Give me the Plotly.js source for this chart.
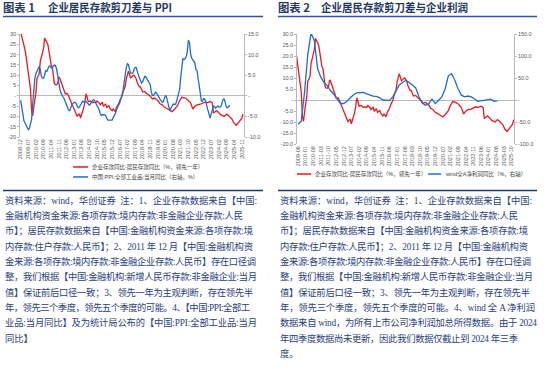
<!DOCTYPE html>
<html><head><meta charset="utf-8">
<script src="https://cdn.plot.ly/plotly-3.0.1.min.js"></script>
<style>
html,body{margin:0;padding:0;background:#fff;width:550px;height:369px;overflow:hidden;}
#txt{position:absolute;left:0;top:0;}
#c1{position:absolute;left:0;top:0;width:273px;height:190px;}
#c2{position:absolute;left:277px;top:0;width:273px;height:190px;}
</style></head><body>
<svg id="txt" width="550" height="369" xmlns="http://www.w3.org/2000/svg"></svg>
<div id="c1"></div><div id="c2"></div>
<script>
// ---------------- DATA ----------------
// Red series: 企业存款同比-居民存款同比 (%, 领先一年)
const redDates = ['2008-12','2009-01','2009-02','2009-03','2009-04','2009-05','2009-06','2009-07','2009-08','2009-09','2009-10','2009-11','2009-12',
 '2010-01','2010-02','2010-03','2010-04','2010-05','2010-06','2010-07','2010-08','2010-09','2010-10','2010-11','2010-12',
 '2011-01','2011-02','2011-03','2011-04','2011-05','2011-06','2011-07','2011-08','2011-09','2011-10','2011-11','2011-12',
 '2012-01','2012-02','2012-03','2012-04','2012-05','2012-06','2012-07','2012-08','2012-09','2012-10','2012-11','2012-12',
 '2013-01','2013-02','2013-03','2013-04','2013-05','2013-06','2013-07','2013-08','2013-09','2013-10','2013-11','2013-12',
 '2014-01','2014-02','2014-04','2014-06','2014-07','2014-09','2014-10','2014-12',
 '2015-01','2015-03','2015-04','2015-06','2015-07','2015-09','2015-10','2015-12',
 '2016-01','2016-03','2016-04','2016-06','2016-07','2016-09','2016-10','2016-12',
 '2017-01','2017-03','2017-04','2017-05','2017-07','2017-08','2017-10','2017-11',
 '2018-01','2018-02','2018-04','2018-06','2018-08','2018-11',
 '2019-01','2019-03','2019-06','2019-08','2019-10','2019-12',
 '2020-03','2020-05','2020-07','2020-09','2020-12',
 '2021-02','2021-04','2021-07','2021-09','2021-12',
 '2022-02','2022-04','2022-06','2022-09','2022-11',
 '2023-01','2023-03','2023-06','2023-08','2023-09','2023-12',
 '2024-02','2024-04','2024-07','2024-09','2024-11',
 '2025-02','2025-04','2025-06','2025-08','2025-11','2025-12'];
const redValues = [31,29,25.6,24,22.3,19,15,11.6,5,3.4,-7.2,-9.7,-5.6,
 -2,1.8,8.4,10,10.5,16.6,19,19.8,23,28,27.2,26,
 24.8,21.5,18.2,15.2,14.1,10.8,5.9,5.4,5.4,5.9,9.2,8.4,
 6.7,5,4.3,2.6,1,1,1,-0.2,-1.5,-2.8,-4,-5.2,
 -6.7,-7.5,-8.4,-10,-9,-8.9,-10.8,-9.3,-7.2,-5.6,-2.8,1,
 -0.7,-2.8,-2.5,-3.4,-3.1,-3.4,-2.5,-3.4,
 -4.4,-3.1,-5.1,-3.9,-5.6,-4.8,-6.1,-7.2,
 -6.4,-7.7,-5.6,-3.9,-2.3,-0.2,1.8,4.6,
 8.4,12,10.3,8.7,9.7,10,8.4,6.4,
 4.3,4.3,1.8,2.1,1,-0.2,
 -1.5,-1.1,-2.3,-3.9,-4.4,-5.6,
 -6.4,-7.2,-7.7,-6.7,-4.8,
 -2.3,-0.7,-1.1,-1.8,-3.4,
 -6.4,-5.1,-4.4,-4.1,-3.4,
 -3.1,-3.4,-2.8,-3.4,-8.4,-7.2,
 -8.4,-9.3,-10,-8.9,-9.7,
 -11.3,-13.3,-14.3,-13,-11,-8.9];

// Blue series chart 1: 中国:PPI:全部工业品:当月同比 (右轴, %), monthly from 2008-12
const ppiStart = '2008-12';
const ppiValues = [-1.1,
 -3.3,-4.5,-6.0,-6.6,-7.2,-7.8,-8.2,-7.9,-7.0,-5.8,-2.1,1.7,
 4.3,5.4,5.9,6.8,7.1,6.4,4.8,4.3,4.3,5.0,6.1,5.9,
 6.6,7.2,7.3,6.8,6.8,7.1,7.5,7.3,6.5,5.0,2.7,1.7,
 0.7,0.0,-0.3,-0.7,-1.4,-2.1,-2.9,-3.5,-3.6,-2.8,-2.2,-1.9,
 -1.6,-1.6,-1.9,-2.6,-2.9,-2.7,-2.3,-1.6,-1.3,-1.5,-1.4,-1.4,
 -1.6,-2.0,-2.3,-2.0,-1.4,-1.1,-0.9,-1.2,-1.8,-2.2,-2.7,-3.3,
 -4.3,-4.8,-4.6,-4.6,-4.6,-4.8,-5.4,-5.9,-5.9,-5.9,-5.9,-5.9,
 -5.3,-4.9,-4.3,-3.4,-2.8,-2.6,-1.7,-0.8,0.1,1.2,3.3,5.5,
 6.9,7.8,7.6,6.4,5.5,5.5,5.5,6.3,6.9,6.9,5.8,4.9,
 4.3,3.7,3.1,3.4,4.1,4.7,4.6,4.1,3.6,3.3,2.7,0.9,
 0.1,0.1,0.4,0.9,0.6,0.0,-0.3,-0.8,-1.2,-1.6,-1.4,-0.5,
 0.1,-0.4,-1.5,-3.1,-3.7,-3.0,-2.4,-2.0,-2.1,-2.1,-1.5,-0.4,
 0.3,1.7,4.4,6.8,9.0,8.8,9.0,9.5,10.7,13.5,12.9,10.3,
 9.1,8.8,8.3,8.0,6.4,6.1,4.2,2.3,0.9,-1.3,-1.3,-0.7,
 -0.8,-1.4,-2.5,-3.6,-4.6,-5.4,-4.4,-3.0,-2.5,-2.6,-3.0,-2.7,
 -2.5,-2.7,-2.8,-2.5,-1.4,-0.8,-0.8,-1.8,-2.8,-2.9,-2.5,-2.3];

// Blue series chart 2: wind全A净利润同比 (%, 右轴), quarterly
const profitDates = ['2009-06','2009-09','2009-12','2010-03','2010-06','2010-09','2010-12',
 '2011-03','2011-06','2011-09','2011-12','2012-03','2012-06','2012-09','2012-12',
 '2013-03','2013-06','2013-09','2013-12','2014-03','2014-06','2014-09','2014-12',
 '2015-03','2015-06','2015-09','2015-12','2016-03','2016-06','2016-09','2016-12',
 '2017-03','2017-06','2017-09','2017-12','2018-03','2018-06','2018-09','2018-12',
 '2019-03','2019-06','2019-09','2019-12','2020-03','2020-06','2020-09','2020-12',
 '2021-03','2021-06','2021-09','2021-12','2022-03','2022-06','2022-09','2022-12',
 '2023-03','2023-06','2023-09','2023-12','2024-03','2024-06','2024-09'];
const profitValues = [-55,-48,18,103,152,135,71,
 52,39,32,21,13,2,-8,-8,
 -3,5,12,16,17,17,14,11,
 9,8,5,0,0,-1,7,22,
 34,40,45,40,34,28,8,-7,
 -12,-9,2,-8,-1,7,25,55,
 60,45,25,11,7,9,7,3,
 -3,-2,-1,1,2,-3,-2];

// Tick labels
const xTicks1 = ['2008-12','2009-07','2010-02','2010-09','2011-04','2011-11','2012-06','2013-01','2013-08','2014-03',
 '2014-10','2015-05','2015-12','2016-07','2017-02','2017-09','2018-04','2018-11','2019-06','2020-01',
 '2020-08','2021-03','2021-10','2022-05','2022-12','2023-07','2024-02','2024-09','2025-04','2025-11'];
const xTicks2 = ['2009-06','2010-01','2010-08','2011-03','2011-10','2012-05','2012-12','2013-07','2014-02','2014-09',
 '2015-04','2015-11','2016-06','2017-01','2017-08','2018-03','2018-10','2019-05','2019-12','2020-07',
 '2021-02','2021-09','2022-04','2022-11','2023-06','2024-01','2024-08','2025-03','2025-10'];
const yLeftVals = [30,25,20,15,10,5,0,-5,-10,-15,-20];
const yLeftText1 = ['30','25','20','15','10','5','-','-5','-10','-15','-20'];
const yLeftText2 = ['30.0','25.0','20.0','15.0','10.0','5.0','-','-5.0','-10.0','-15.0','-20.0'];
const yRightVals1 = [15,10,5,0,-5,-10];
const yRightText1 = ['15.0','10.0','5.0','-','-5.0','-10.0'];
const yRightVals2 = [150,100,50,0,-50,-100];
const yRightText2 = ['150.0','100.0','50.0','-','-50.0','-100.0'];

const redName = '企业存款同比-居民存款同比（%，领先一年）';
const ppiName = '中国:PPI:全部工业品:当月同比（右轴，%）';
const profitName = 'wind全A净利润同比（%，右轴）';

const title1a = '图表 1', title1b = '企业居民存款剪刀差与 PPI';
const title2a = '图表 2', title2b = '企业居民存款剪刀差与企业利润';

const notesCommon = [
 '资料来源：wind，华创证券  注：1、企业存款数据来自【中国:',
 '金融机构资金来源:各项存款:境内存款:非金融企业存款:人民',
 '币】；居民存款数据来自【中国:金融机构资金来源:各项存款:境',
 '内存款:住户存款:人民币】；2、2011 年 12 月【中国:金融机构资',
 '金来源:各项存款:境内存款:非金融企业存款:人民币】存在口径调',
 '整，我们根据【中国:金融机构:新增人民币存款:非金融企业:当月',
 '值】保证前后口径一致；3、领先一年为主观判断，存在领先半'];
const notesLeftTail = [
 '年，领先三个季度，领先五个季度的可能。4、【中国:PPI:全部工',
 '业品:当月同比】及为统计局公布的【中国:PPI:全部工业品:当月',
 '同比】'];
const notesRightTail = [
 '年，领先三个季度，领先五个季度的可能。4、wind 全 A 净利润',
 '数据来自 wind，为所有上市公司净利润加总所得数据。由于 2024',
 '年四季度数据尚未更新，因此我们数据仅截止到 2024 年三季',
 '度。'];

// ---------------- helpers ----------------
function monthSeq(start, n){
  let [y,m] = start.split('-').map(Number); const out=[];
  for(let i=0;i<n;i++){ out.push(y+'-'+String(m).padStart(2,'0')); m++; if(m>12){m=1;y++;} }
  return out;
}
const ppiDates = monthSeq(ppiStart, ppiValues.length);

const RED = '#e8191f', BLUE = '#1f6dc9', AX = '#a6a6a6', TK = '#595959';
const FONT = 'Liberation Sans, Arial, "Noto Sans CJK SC", sans-serif';
const tickFont = {family: FONT, size: 5.5, color: TK};

function yAxisBase(){
  return {showgrid:false, showline:true, linecolor:AX, linewidth:0.8, ticks:'outside', ticklen:2,
    tickcolor:AX, tickwidth:0.8, tickfont:tickFont, tickmode:'array', fixedrange:true};
}

function legendItems(items){
  const shapes=[], ann=[];
  items.forEach(it=>{
    shapes.push({type:'line', xref:'paper', yref:'paper', x0:it.x0, x1:it.x1, y0:it.y, y1:it.y,
      line:{color:it.color, width:1.5}});
    ann.push({xref:'paper', yref:'paper', x:it.tx, y:it.y, xanchor:'left', yanchor:'middle',
      text:it.text, showarrow:false, font:{family:FONT, size:5.5, color:'#404040'}});
  });
  return {shapes, ann};
}

// ---------------- chart 1 ----------------
const lg1 = legendItems([
  {x0:0.237, x1:0.304, tx:0.312, y:-0.291, color:RED, text:redName},
  {x0:0.237, x1:0.304, tx:0.312, y:-0.388, color:BLUE, text:ppiName}]);
Plotly.newPlot('c1', [
  {x:redDates, y:redValues, type:'scatter', mode:'lines', name:redName, line:{color:RED, width:1.3}, yaxis:'y'},
  {x:ppiDates, y:ppiValues, type:'scatter', mode:'lines', name:ppiName, line:{color:BLUE, width:1.3}, yaxis:'y2'}
], {
  width:273, height:190, margin:{l:20, r:29, t:34, b:53, pad:0},
  paper_bgcolor:'rgba(0,0,0,0)', plot_bgcolor:'rgba(0,0,0,0)', showlegend:false,
  xaxis:{type:'date', range:['2008-11-12','2026-01-03'], tickmode:'array', tickvals:xTicks1, ticktext:xTicks1,
    tickangle:-90, tickfont:tickFont, showgrid:false, zeroline:false, showline:false, ticks:'', fixedrange:true},
  yaxis:Object.assign(yAxisBase(), {range:[-20,30], tickvals:yLeftVals, ticktext:yLeftText1,
    zeroline:true, zerolinecolor:AX, zerolinewidth:0.8}),
  yaxis2:Object.assign(yAxisBase(), {range:[-10,15], tickvals:yRightVals1, ticktext:yRightText1,
    overlaying:'y', side:'right', zeroline:false}),
  shapes:lg1.shapes, annotations:lg1.ann
}, {staticPlot:true, displayModeBar:false});

// ---------------- chart 2 ----------------
const lg2 = legendItems([
  {x0:0.0, x1:0.065, tx:0.074, y:-0.273, color:RED, text:redName},
  {x0:0.604, x1:0.664, tx:0.673, y:-0.273, color:BLUE, text:profitName}]);
Plotly.newPlot('c2', [
  {x:redDates, y:redValues, type:'scatter', mode:'lines', name:redName, line:{color:RED, width:1.3}, yaxis:'y'},
  {x:profitDates, y:profitValues, type:'scatter', mode:'lines', name:profitName, line:{color:BLUE, width:1.3}, yaxis:'y2'}
], {
  width:273, height:190, margin:{l:20, r:36, t:34, b:46, pad:0},
  paper_bgcolor:'rgba(0,0,0,0)', plot_bgcolor:'rgba(0,0,0,0)', showlegend:false,
  xaxis:{type:'date', range:['2009-05-04','2025-12-10'], tickmode:'array', tickvals:xTicks2, ticktext:xTicks2,
    tickangle:-90, tickfont:tickFont, showgrid:false, zeroline:false, showline:false, ticks:'', fixedrange:true},
  yaxis:Object.assign(yAxisBase(), {range:[-20,30], tickvals:yLeftVals, ticktext:yLeftText2,
    zeroline:true, zerolinecolor:AX, zerolinewidth:0.8}),
  yaxis2:Object.assign(yAxisBase(), {range:[-100,150], tickvals:yRightVals2, ticktext:yRightText2,
    overlaying:'y', side:'right', zeroline:false}),
  shapes:lg2.shapes, annotations:lg2.ann
}, {staticPlot:true, displayModeBar:false});

// ---------------- page text (titles, rules, notes) ----------------
const NS = 'http://www.w3.org/2000/svg';
const svg = document.getElementById('txt');
function txt(x, y, s, attrs){
  const t = document.createElementNS(NS, 'text');
  t.setAttribute('x', x); t.setAttribute('y', y); t.textContent = s;
  t.setAttribute('style', 'white-space:pre');
  for (const k in attrs) t.setAttribute(k, attrs[k]);
  svg.appendChild(t);
}
function rule(x1, x2, y, color, w){
  const l = document.createElementNS(NS, 'line');
  l.setAttribute('x1', x1); l.setAttribute('x2', x2); l.setAttribute('y1', y); l.setAttribute('y2', y);
  l.setAttribute('stroke', color); l.setAttribute('stroke-width', w);
  svg.appendChild(l);
}
const titleAttrs = {'font-family':'"Noto Sans CJK SC", sans-serif', 'font-size':'11', 'font-weight':'bold', fill:'#1f3864'};
txt(3, 11.5, title1a, Object.assign({textLength:32, lengthAdjust:'spacingAndGlyphs'}, titleAttrs));
txt(48, 11.5, title1b, Object.assign({textLength:124, lengthAdjust:'spacingAndGlyphs'}, titleAttrs));
txt(278, 11.5, title2a, Object.assign({textLength:32, lengthAdjust:'spacingAndGlyphs'}, titleAttrs));
txt(321, 11.5, title2b, Object.assign({textLength:147, lengthAdjust:'spacingAndGlyphs'}, titleAttrs));
rule(3, 263, 16.5, '#2f55a4', 1.6);
rule(278, 537, 16.5, '#2f55a4', 1.6);
rule(3, 263, 190.5, '#1f3864', 1.4);
rule(278, 537, 190.5, '#1f3864', 1.4);

const noteAttrs = {'font-family':'"Liberation Serif", "Noto Sans CJK SC", serif', 'font-size':'9.3', fill:'#28407e'};
const leftLines = notesCommon.concat(notesLeftTail);
const rightLines = notesCommon.concat(notesRightTail);
const leftEnds = [257,243,253,253,256,257,253,250,257,null];
const rightEnds = [532,518,528,528,531,533,530,535,537,518,null];
leftLines.forEach((s,i)=>{
  const a = Object.assign({}, noteAttrs);
  if (leftEnds[i]) { a.textLength = leftEnds[i]-5; a.lengthAdjust = 'spacing'; }
  txt(5, 203.5 + i*15.35, s, a);
});
rightLines.forEach((s,i)=>{
  const a = Object.assign({}, noteAttrs);
  if (rightEnds[i]) { a.textLength = rightEnds[i]-280; a.lengthAdjust = 'spacing'; }
  txt(280, 203.5 + i*15.35, s, a);
});
</script>
</body></html>
